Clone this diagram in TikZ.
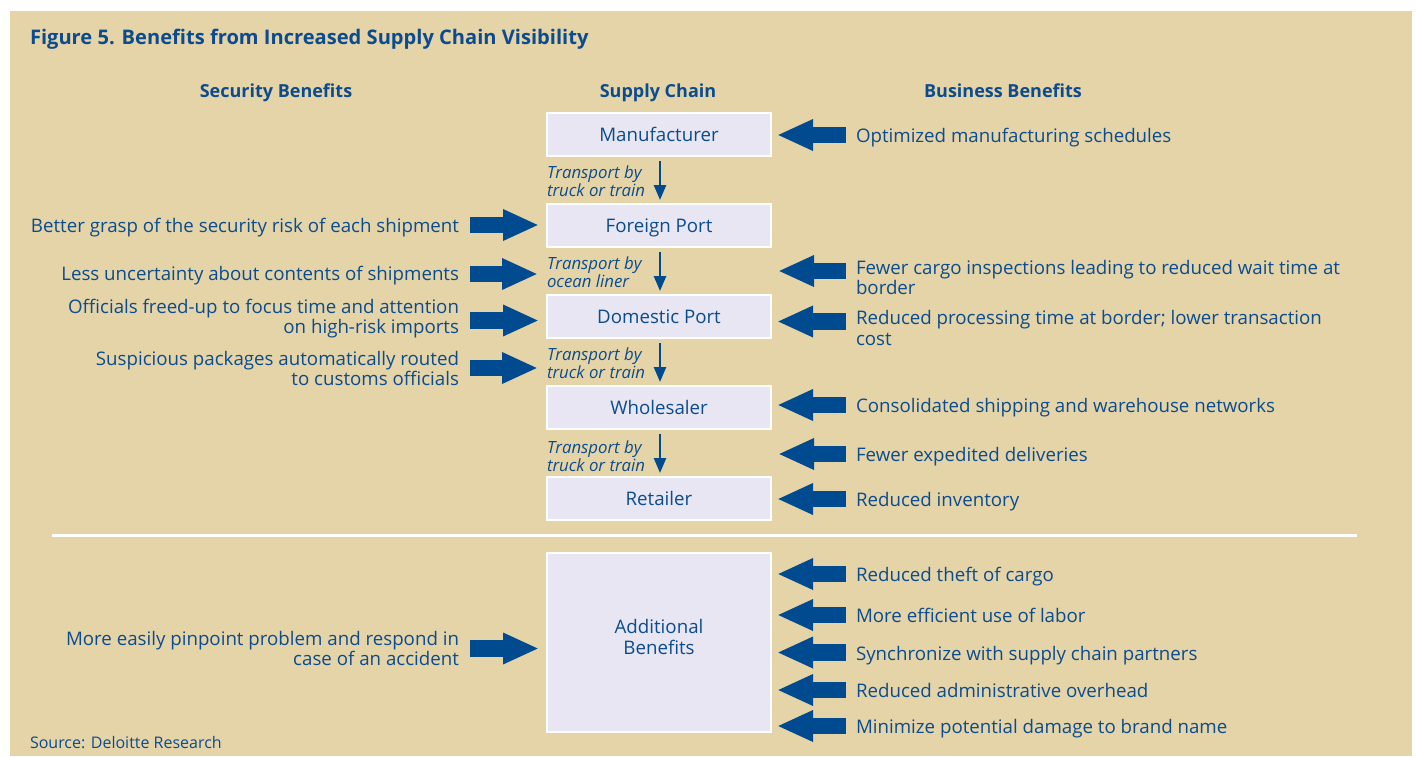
\documentclass[tikz,border=0pt]{standalone}
\usepackage{fontspec}
\setmainfont{Open Sans}
\usetikzlibrary{arrows.meta,calc}
\definecolor{bg}{HTML}{E4D4A8}
\definecolor{dblue}{HTML}{0C4C8E}
\definecolor{abl}{HTML}{004A8F}
\definecolor{boxf}{HTML}{E7E6F2}
\begin{document}
\begin{tikzpicture}[x=1pt,y=-1pt,
  every node/.style={inner sep=0pt, outer sep=0pt, text=dblue, font=\fontsize{18.7}{20.5}\selectfont},
  chainbox/.style={draw=white, line width=2pt, fill=boxf, minimum width=224pt, minimum height=43pt, text height=16pt, text depth=2pt},
  hdr/.style={font=\fontsize{18}{22}\selectfont\bfseries, anchor=base},
  trans/.style={font=\fontsize{16.8}{16.5}\selectfont\itshape, align=left, anchor=west},
  lbenefit/.style={anchor=east, align=right},
  rbenefit/.style={anchor=west, align=left},
  blockarrow/.style={draw=abl, line width=16.5pt, -{Triangle[length=36pt,width=29pt]}},
  downarrow/.style={draw=abl, line width=2.5pt, -{Triangle[length=15pt,width=12pt]}}]
\useasboundingbox (0,0) rectangle (1416,756);
\fill[white] (0,0) rectangle (1416,756);
\fill[bg] (10,11) rectangle (1412,756);
\draw[white, line width=2.5pt] (52,535.5) -- (1357,535.5);

% title and headers
\node[anchor=base west, font=\fontsize{20.1}{24}\selectfont\bfseries] (title) at (30,44.3) {Figure 5. Benefits from Increased Supply Chain Visibility};
\node[hdr] (hs) at (276,97) {Security Benefits};
\node[hdr] (hc) at (658,97) {Supply Chain};
\node[hdr] (hb) at (1003,97) {Business Benefits};

% supply chain boxes
\node[chainbox] (m) at (659,134.5) {Manufacturer};
\node[chainbox] (fp) at (659,225.5) {Foreign Port};
\node[chainbox] (dp) at (659,316.5) {Domestic Port};
\node[chainbox] (w) at (659,407.5) {Wholesaler};
\node[chainbox] (r) at (659,498.5) {Retailer};
\node[chainbox, minimum height=179pt] (ab) at (659,642.5) {};
\node[align=center] (abt) at (659,637) {Additional\\Benefits};

% down arrows
\draw[downarrow] ($(m.south)+(1,5)$) -- ($(fp.north)+(1,-4)$);
\draw[downarrow] ($(fp.south)+(1,5)$) -- ($(dp.north)+(1,-4)$);
\draw[downarrow] ($(dp.south)+(1,5)$) -- ($(w.north)+(1,-4)$);
\draw[downarrow] ($(w.south)+(1,5)$) -- ($(r.north)+(1,-4)$);

% transport labels
\node[trans] (t1) at (547,181.5) {Transport by\\truck or train};
\node[trans] (t2) at (547,272.5) {Transport by\\ocean liner};
\node[trans] (t3) at (547,363) {Transport by\\truck or train};
\node[trans] (t4) at (547,456.5) {Transport by\\truck or train};

% security benefits
\node[lbenefit] (l1) at (459,228) {Better grasp of the security risk of each shipment};
\node[lbenefit] (l2) at (459,276) {Less uncertainty about contents of shipments};
\node[lbenefit] (l3) at (459,318.5) {Officials freed-up to focus time and attention\\on high-risk imports};
\node[lbenefit] (l4) at (459,368.5) {Suspicious packages automatically routed\\to customs officials};
\node[lbenefit] (l5) at (459,648.5) {More easily pinpoint problem and respond in\\case of an accident};

\draw[blockarrow] ($(l1.east |- 0,225)+(11,0)$) -- ($(fp.west |- 0,225)+(-8,0)$);
\draw[blockarrow] ($(l2.east |- 0,274)+(11,0)$) -- ($(t2.west |- 0,274)+(-9,0)$);
\draw[blockarrow] ($(l3.east |- 0,320.5)+(11,0)$) -- ($(dp.west |- 0,320.5)+(-8,0)$);
\draw[blockarrow] ($(l4.east |- 0,368)+(11,0)$) -- ($(t3.west |- 0,368)+(-9,0)$);
\draw[blockarrow] ($(l5.east |- 0,648.5)+(11,0)$) -- ($(ab.west |- 0,648.5)+(-8,0)$);

% business benefits
\node[rbenefit] (r1) at (856,138) {Optimized manufacturing schedules};
\node[rbenefit] (r2) at (856,277.5) {Fewer cargo inspections leading to reduced wait time at\\border};
\node[rbenefit] (r3) at (856,328) {Reduced processing time at border; lower transaction\\cost};
\node[rbenefit] (r4) at (856,408) {Consolidated shipping and warehouse networks};
\node[rbenefit] (r5) at (856,457) {Fewer expedited deliveries};
\node[rbenefit] (r6) at (856,502) {Reduced inventory};
\node[rbenefit] (r7) at (856,577) {Reduced theft of cargo};
\node[rbenefit] (r8) at (856,615.5) {More efficient use of labor};
\node[rbenefit] (r9) at (856,656) {Synchronize with supply chain partners};
\node[rbenefit] (r10) at (856,690.5) {Reduced administrative overhead};
\node[rbenefit] (r11) at (856,729) {Minimize potential damage to brand name};

\draw[blockarrow] ($(r1.west |- 0,135)+(-10,0)$) -- ($(m.east |- 0,135)+(6,0)$);
\draw[blockarrow] ($(r2.west |- 0,271)+(-10,0)$) -- ++(-68,0);
\draw[blockarrow] ($(r3.west |- 0,321.5)+(-10,0)$) -- ($(dp.east |- 0,321.5)+(6,0)$);
\draw[blockarrow] ($(r4.west |- 0,405)+(-10,0)$) -- ($(w.east |- 0,405)+(6,0)$);
\draw[blockarrow] ($(r5.west |- 0,454)+(-10,0)$) -- ++(-68,0);
\draw[blockarrow] ($(r6.west |- 0,499)+(-10,0)$) -- ($(r.east |- 0,499)+(6,0)$);
\draw[blockarrow] ($(r7.west |- 0,574)+(-10,0)$) -- ($(ab.east |- 0,574)+(6,0)$);
\draw[blockarrow] ($(r8.west |- 0,615)+(-10,0)$) -- ($(ab.east |- 0,615)+(6,0)$);
\draw[blockarrow] ($(r9.west |- 0,652.5)+(-10,0)$) -- ($(ab.east |- 0,652.5)+(6,0)$);
\draw[blockarrow] ($(r10.west |- 0,690)+(-10,0)$) -- ($(ab.east |- 0,690)+(6,0)$);
\draw[blockarrow] ($(r11.west |- 0,726)+(-10,0)$) -- ($(ab.east |- 0,726)+(6,0)$);

\node[anchor=west, font=\fontsize{16}{18}\selectfont] (src) at (30,743) {Source: Deloitte Research};
\end{tikzpicture}
\end{document}
